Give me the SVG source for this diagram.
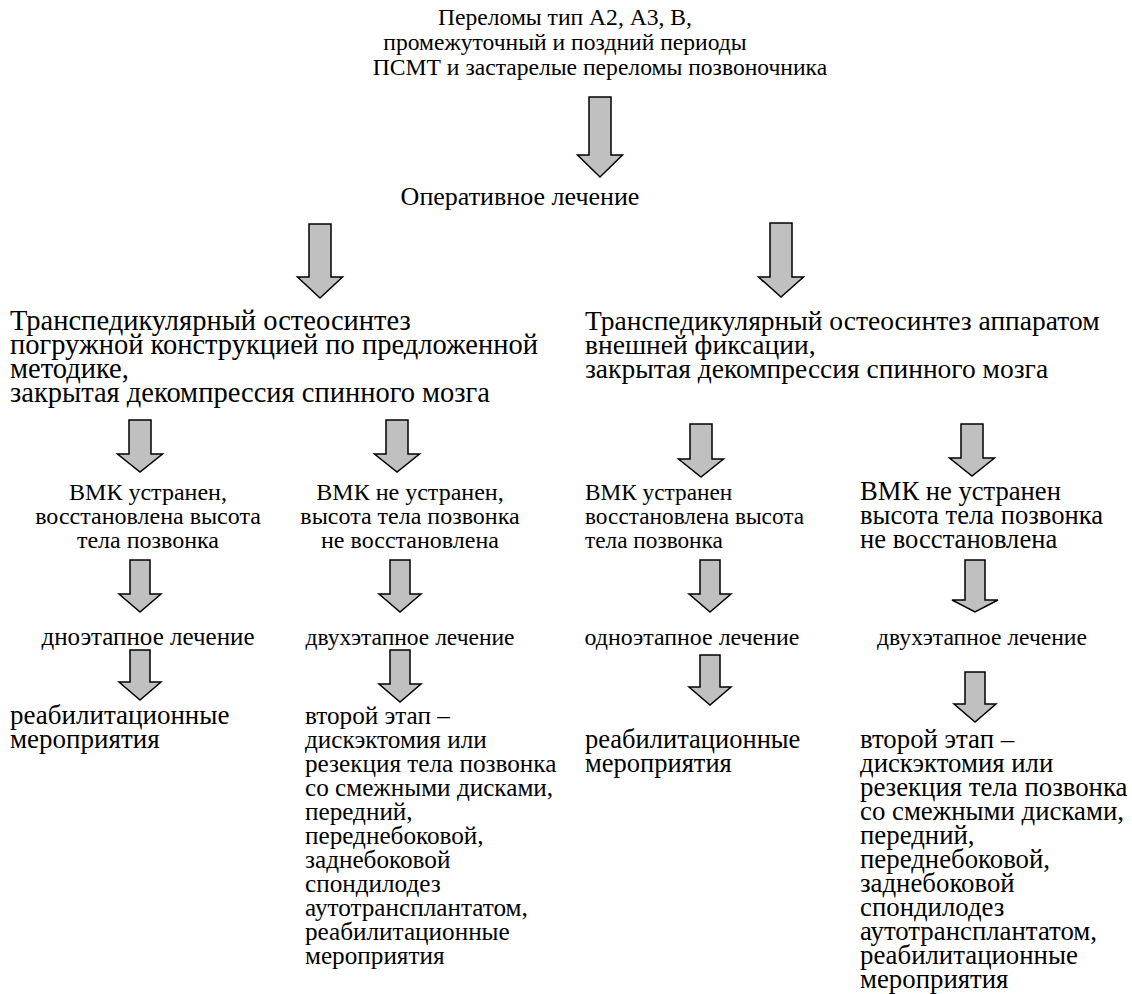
<svg xmlns="http://www.w3.org/2000/svg" width="1132" height="994" viewBox="0 0 1132 994">
<style>
.arr{fill:#c0c0c0;stroke:#000;stroke-width:1.5;stroke-linejoin:miter}
.m{text-anchor:middle}
</style>
<rect width="1132" height="994" fill="#fff"/>
<g id="connectors">
<path class="arr" d="M589,97 H611 V155 H622.5 L600,177 L577.5,155 H589 Z"/>
<path class="arr" d="M309,224 H331 V277 H342.5 L320,298 L297.5,277 H309 Z"/>
<path class="arr" d="M770,223 H792 V277 H803.5 L781,297 L758.5,277 H770 Z"/>
<path class="arr" d="M129,420 H151 V454 H162.5 L140,472 L117.5,454 H129 Z"/>
<path class="arr" d="M386,420 H408 V454 H419.5 L397,472 L374.5,454 H386 Z"/>
<path class="arr" d="M690,424 H712 V459 H723.5 L701,477 L678.5,459 H690 Z"/>
<path class="arr" d="M961,424 H983 V458 H994.5 L972,476 L949.5,458 H961 Z"/>
<path class="arr" d="M130,560 H150 V594 H161 L140,612 L119,594 H130 Z"/>
<path class="arr" d="M390,560 H410 V594 H421 L400,612 L379,594 H390 Z"/>
<path class="arr" d="M700,560 H720 V594 H731 L710,612 L689,594 H700 Z"/>
<path class="arr" d="M965,560 H985 V600 H998 L975,612 L952,600 H965 Z"/>
<path class="arr" d="M130,650 H150 V682 H161 L140,700 L119,682 H130 Z"/>
<path class="arr" d="M390,650 H410 V684 H421 L400,702 L379,684 H390 Z"/>
<path class="arr" d="M700,655 H720 V687 H731 L710,705 L689,687 H700 Z"/>
<path class="arr" d="M965,672 H985 V704 H996 L975,722 L954,704 H965 Z"/>
</g>
<g font-size="26" fill="#000" font-family="Liberation Serif, serif">
<text id="n_top" class="m" font-size="23.6"><tspan x="565" y="25">Переломы тип А2, А3, В,</tspan><tspan x="565" y="50">промежуточный и поздний периоды</tspan><tspan x="600" y="75">ПСМТ и застарелые переломы позвоночника</tspan></text>
<text id="n_oper" x="520" y="205" class="m">Оперативное лечение</text>
<text id="n_left" font-size="28.5"><tspan x="10" y="330">Транспедикулярный остеосинтез</tspan><tspan x="10" y="354">погружной конструкцией по предложенной</tspan><tspan x="10" y="378">методике,</tspan><tspan x="10" y="402">закрытая декомпрессия спинного мозга</tspan></text>
<text id="n_right" font-size="27.5"><tspan x="585" y="330">Транспедикулярный остеосинтез аппаратом</tspan><tspan x="585" y="354">внешней фиксации,</tspan><tspan x="585" y="378">закрытая декомпрессия спинного мозга</tspan></text>
<text id="n_c1r3" class="m" font-size="24"><tspan x="148" y="500">ВМК устранен,</tspan><tspan x="148" y="524">восстановлена высота</tspan><tspan x="148" y="548">тела позвонка</tspan></text>
<text id="n_c2r3" class="m" font-size="24"><tspan x="410" y="500">ВМК не устранен,</tspan><tspan x="410" y="524">высота тела позвонка</tspan><tspan x="410" y="548">не восстановлена</tspan></text>
<text id="n_c3r3" font-size="23.3"><tspan x="585" y="500">ВМК устранен</tspan><tspan x="585" y="524">восстановлена высота</tspan><tspan x="585" y="548">тела позвонка</tspan></text>
<text id="n_c4r3" font-size="26.6"><tspan x="860" y="500">ВМК не устранен</tspan><tspan x="860" y="524">высота тела позвонка</tspan><tspan x="860" y="548">не восстановлена</tspan></text>
<text id="n_c1r4" x="148" y="645" class="m" font-size="25">дноэтапное лечение</text>
<text id="n_c2r4" x="410" y="645" class="m" font-size="23.5">двухэтапное лечение</text>
<text id="n_c3r4" x="692" y="645" class="m" font-size="23.9">одноэтапное лечение</text>
<text id="n_c4r4" x="982" y="645" class="m" font-size="23.6">двухэтапное лечение</text>
<text id="n_c1r5" font-size="27"><tspan x="10" y="724">реабилитационные</tspan><tspan x="10" y="748">мероприятия</tspan></text>
<text id="n_c2r5" font-size="25.2"><tspan x="305" y="724">второй этап –</tspan><tspan x="305" y="748">дискэктомия или</tspan><tspan x="305" y="772">резекция тела позвонка</tspan><tspan x="305" y="796">со смежными дисками,</tspan><tspan x="305" y="820">передний,</tspan><tspan x="305" y="844">переднебоковой,</tspan><tspan x="305" y="868">заднебоковой</tspan><tspan x="305" y="892">спондилодез</tspan><tspan x="305" y="916">аутотрансплантатом,</tspan><tspan x="305" y="940">реабилитационные</tspan><tspan x="305" y="964">мероприятия</tspan></text>
<text id="n_c3r5" font-size="26.5"><tspan x="585" y="748">реабилитационные</tspan><tspan x="585" y="772">мероприятия</tspan></text>
<text id="n_c4r5" font-size="26.8"><tspan x="860" y="748">второй этап –</tspan><tspan x="860" y="772">дискэктомия или</tspan><tspan x="860" y="796">резекция тела позвонка</tspan><tspan x="860" y="820">со смежными дисками,</tspan><tspan x="860" y="844">передний,</tspan><tspan x="860" y="868">переднебоковой,</tspan><tspan x="860" y="892">заднебоковой</tspan><tspan x="860" y="916">спондилодез</tspan><tspan x="860" y="940">аутотрансплантатом,</tspan><tspan x="860" y="964">реабилитационные</tspan><tspan x="860" y="988">мероприятия</tspan></text>
</g>
</svg>
